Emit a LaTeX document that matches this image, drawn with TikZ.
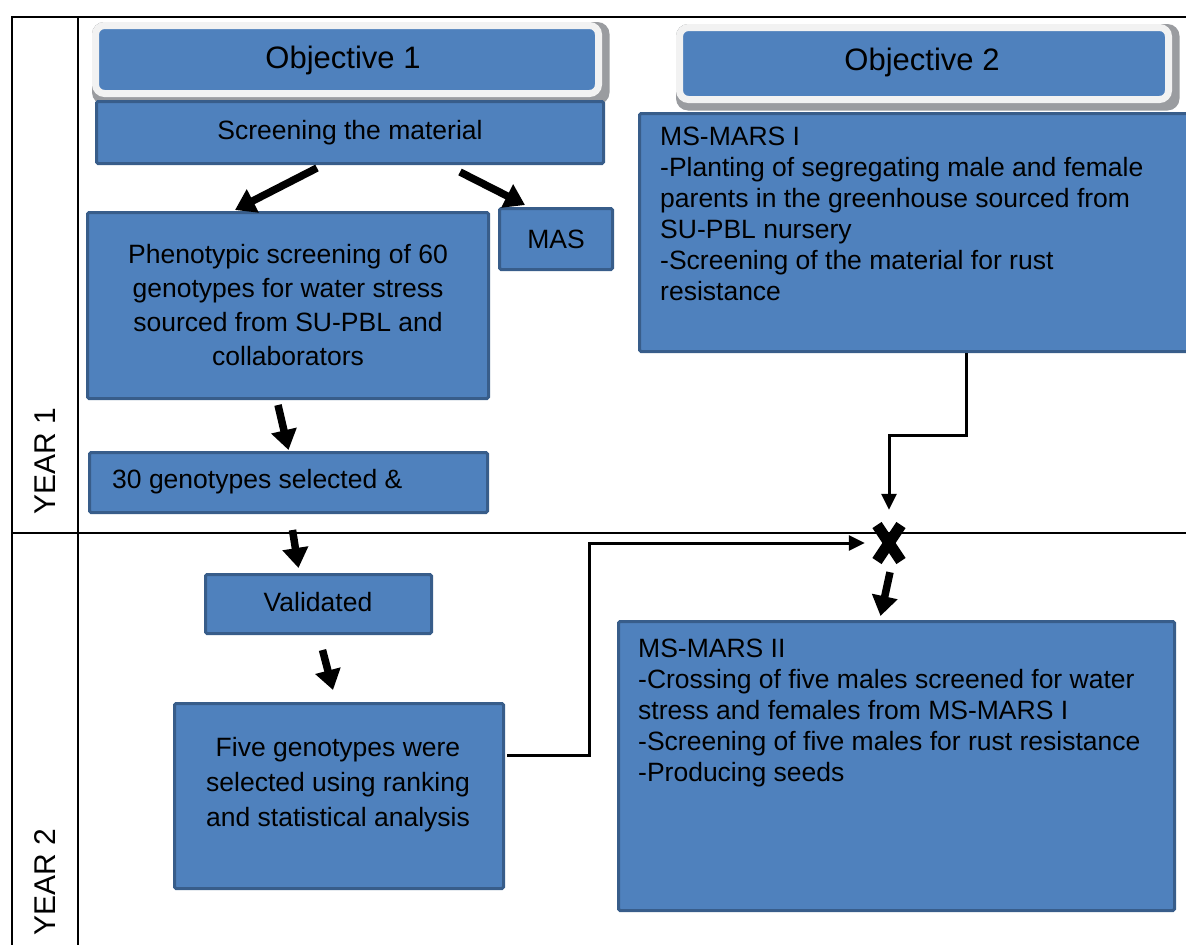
\documentclass[tikz,border=0pt]{standalone}
\usepackage{fontspec}
\setmainfont{Liberation Sans}
\usetikzlibrary{arrows.meta,calc,backgrounds}
\definecolor{boxblue}{HTML}{4F81BD}
\definecolor{boxedge}{HTML}{385D8A}
\definecolor{objedge}{HTML}{F2F2F2}
\definecolor{shadowgrey}{HTML}{9A9CA0}
\newcommand\mybody{\fontsize{26.5}{31}\selectfont}
\newcommand\myobj{\fontsize{31}{36}\selectfont}
\begin{document}
\begin{tikzpicture}[x=1pt,y=-1pt,
  box/.style={draw=boxedge, fill=boxblue, line width=3pt, inner sep=0pt, rounded corners=1.5pt, font=\mybody, align=center},
  obj/.style={fill=boxblue, draw=objedge, line width=7pt, rounded corners=9pt, inner sep=0pt, font=\myobj},
  objshadow/.style={fill=shadowgrey, rounded corners=12pt},
  txt/.style={inner sep=0pt, font=\mybody},
  grid/.style={line width=2.5pt},
  big/.style={line width=7.5pt, -{Triangle[length=20pt,width=25pt]}},
  conn/.style={line width=3pt, -{Triangle[length=16pt,width=15pt]}},
  year/.style={inner sep=0pt, rotate=90, font=\fontsize{30}{34}\selectfont}]
\useasboundingbox (0,0) rectangle (1186,945);
\clip (0,0) rectangle (1186,945);
% table grid
\draw[grid] (12,945) -- (12,17) -- (1190,17);
\draw[grid] (78,17) -- (78,945);
\draw[grid] (12,533) -- (1190,533);
\node[year] (y1) at (45,461) {YEAR 1};
\node[year] (y2) at (45,882) {YEAR 2};
% objectives
\node[obj, minimum width=503, minimum height=68] (obj1) at (347,59.5) {};
\node[txt, font=\myobj] (obj1t) at (343,60) {Objective 1};
\node[obj, minimum width=489, minimum height=72] (obj2) at (924,63.5) {};
\node[txt, font=\myobj] (obj2t) at (922,62) {Objective 2};
\begin{scope}[on background layer]
  \path[objshadow] ($(obj1.north west)+(0,0)$) rectangle ($(obj1.south east)+(7.5,7.5)$);
  \path[objshadow] ($(obj2.north west)+(0,0)$) rectangle ($(obj2.south east)+(7.5,7.5)$);
\end{scope}
% objective 1 column
\node[box, minimum width=507, minimum height=62] (scr) at (350,132.5) {Screening the material};
\node[box, minimum width=113, minimum height=61] (mas) at (556,239) {MAS};
\node[box, minimum width=401, minimum height=186] (phen) at (288,305.5) {};
\node[txt, align=center, font=\fontsize{26.5}{34}\selectfont] (phent) at (288,305) {Phenotypic screening of 60\\genotypes for water stress\\sourced from SU-PBL and\\collaborators};
\node[box, minimum width=398, minimum height=60] (sel) at (288.5,482.5) {};
\node[txt, anchor=west] (selt) at (112,482) {30 genotypes selected \&};
\node[box, minimum width=226, minimum height=59] (valid) at (318.5,604) {};
\node[txt] (validt) at (318,602) {Validated};
\node[box, minimum width=329, minimum height=185] (five) at (339,796) {};
\node[txt, align=center, font=\fontsize{26.5}{35}\selectfont] (fivet) at (338,785) {Five genotypes were\\selected using ranking\\and statistical analysis};
% objective 2 column
\node[box, minimum width=557, minimum height=238] (ms1) at (918,232.5) {};
\node[txt, anchor=north west, align=left] (ms1t) at (660,127) {MS-MARS I\\-Planting of segregating male and female\\parents in the greenhouse sourced from\\SU-PBL nursery\\-Screening of the material for rust\\resistance};
\node[box, minimum width=556, minimum height=289] (ms2) at (896.5,766) {};
\node[txt, anchor=north west, align=left] (ms2t) at (638,639) {MS-MARS II\\-Crossing of five males screened for water\\stress and females from MS-MARS I\\-Screening of five males for rust resistance\\-Producing seeds};
% cross
\node[minimum width=48, minimum height=66, inner sep=0pt,
  path picture={
    \draw[line width=11pt] ($(path picture bounding box.center)+(-12,-18)$) -- ++(24,36);
    \draw[line width=11pt] ($(path picture bounding box.center)+(12,-18)$) -- ++(-24,36);
  }] (cross) at (889,543) {};
% thick arrows
\draw[big] ($(scr.south)+(-33,3)$) -- ($(phen.north)+(-53,-1)$);
\draw[big] ($(scr.south)+(110,7)$) -- ($(mas.north)+(-31,-2)$);
\draw[big] ($(phen.south)+(-10,5)$) -- ($(sel.north)+(0,-1)$);
\draw[big] ($(sel.south)+(4,16)$) -- ($(valid.north)+(-20,-5)$);
\draw[big] ($(valid.south)+(4,15)$) -- ($(five.north)+(-6,-12)$);
\draw[big] ($(cross.south)+(1,-4)$) -- ($(ms2.north)+(-16,-4)$);
% thin connectors
\coordinate (c1) at (966,0);
\draw[conn] (ms1.south -| c1) -- ++(0,82) -| (cross.north);
\draw[conn] ($(five.east)+(2,-41)$) -- ++(82,0) |- (cross.west);
\end{tikzpicture}
\end{document}
